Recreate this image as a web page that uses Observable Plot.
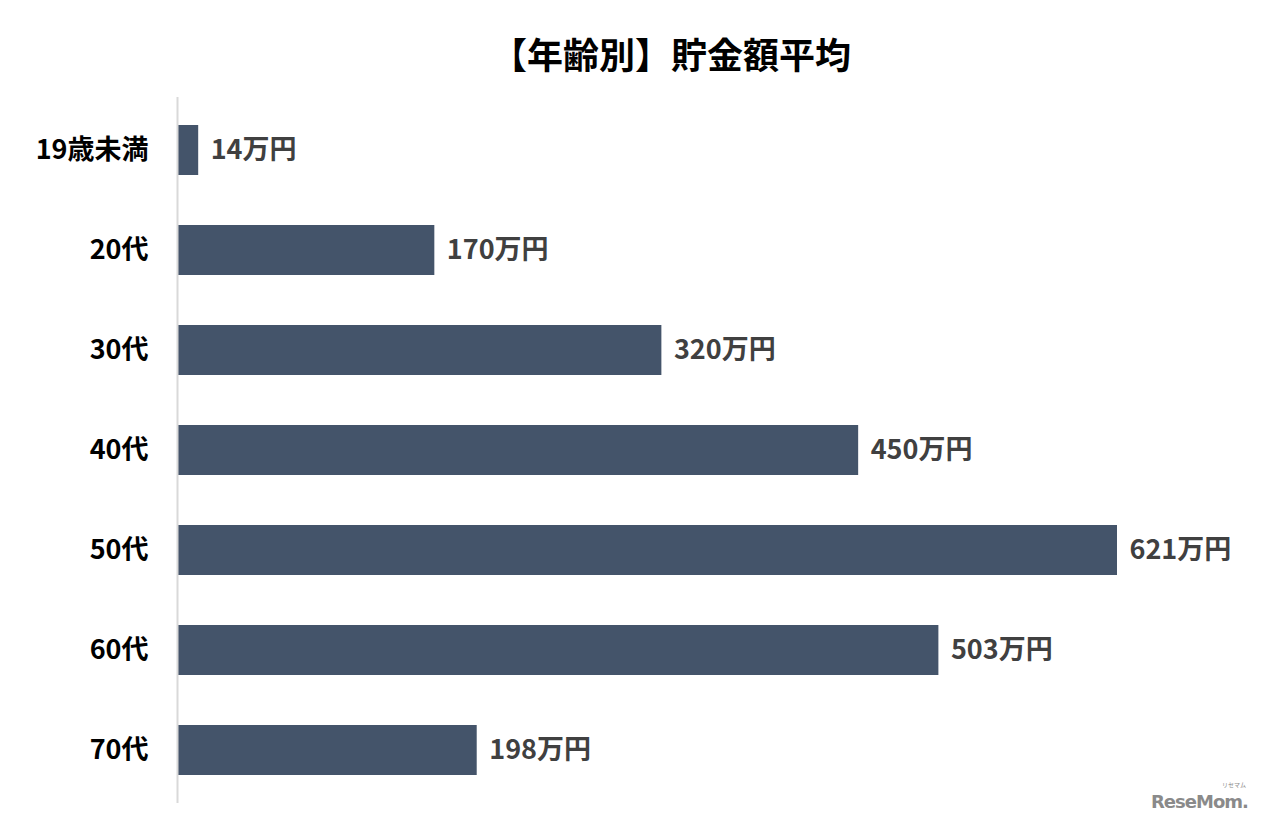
<!DOCTYPE html>
<html>
<head>
<meta charset="utf-8">
<script src="https://cdn.jsdelivr.net/npm/d3@7"></script>
<script src="https://cdn.jsdelivr.net/npm/@observablehq/plot@0.6"></script>
<style>
  html, body { margin: 0; padding: 0; background: #fff; }
  #wrap { position: relative; width: 1261px; height: 827px; overflow: hidden; }
  #title { position: absolute; left: 0; top: 28px; width: 1342px; text-align: center;
    font-family: "Noto Sans CJK JP", sans-serif; font-weight: bold; font-size: 36px; color: #000; line-height: 50px; }
  #chart { position: absolute; left: 0; top: 97px; }
  #mark { position: absolute; left: 1151px; top: 791px; font-family: "DejaVu Sans", sans-serif; font-weight: bold;
    font-size: 18px; line-height: 22px; color: #8a8a8a; letter-spacing: -1px; }
  #kana { position: absolute; left: 1222px; top: 781px; font-family: "Noto Sans CJK JP", sans-serif;
    font-size: 6px; line-height: 8px; color: #8a8a8a; }
</style>
</head>
<body>
<div id="wrap">
  <div id="title">【年齢別】貯金額平均</div>
  <div id="chart"></div>
  <div id="kana">リセマム</div>
  <div id="mark">ReseMom.</div>
</div>
<script>
const categories = ["19歳未満", "20代", "30代", "40代", "50代", "60代", "70代"];
const values = [14, 170, 320, 450, 621, 503, 198];
const unit = "万円";

const data = categories.map((c, i) => ({ cat: c, v: values[i] }));

const chart = Plot.plot({
  width: 1261,
  height: 730,
  marginTop: 0,
  marginBottom: 24,
  marginLeft: 177,
  marginRight: 144,
  style: { fontFamily: "'Noto Sans CJK JP', sans-serif", background: "transparent" },
  x: { domain: [0, 621], axis: null },
  y: { domain: categories, paddingInner: 0.5, paddingOuter: 0.25, label: null },
  marks: [
    Plot.barX(data, { x: "v", y: "cat", fill: "#44546a" }),
    Plot.ruleX([0], { stroke: "#d9d9d9", strokeWidth: 2 }),
    Plot.text(data, { x: "v", y: "cat", text: d => d.v + unit, textAnchor: "start", dx: 12,
      fill: "#404040", fontSize: 27, fontWeight: "bold" }),
    Plot.axisY({ tickSize: 0, tickPadding: 29, fontSize: 27, fontWeight: "bold", color: "#000", label: null })
  ]
});
document.getElementById("chart").appendChild(chart);
</script>
</body>
</html>
